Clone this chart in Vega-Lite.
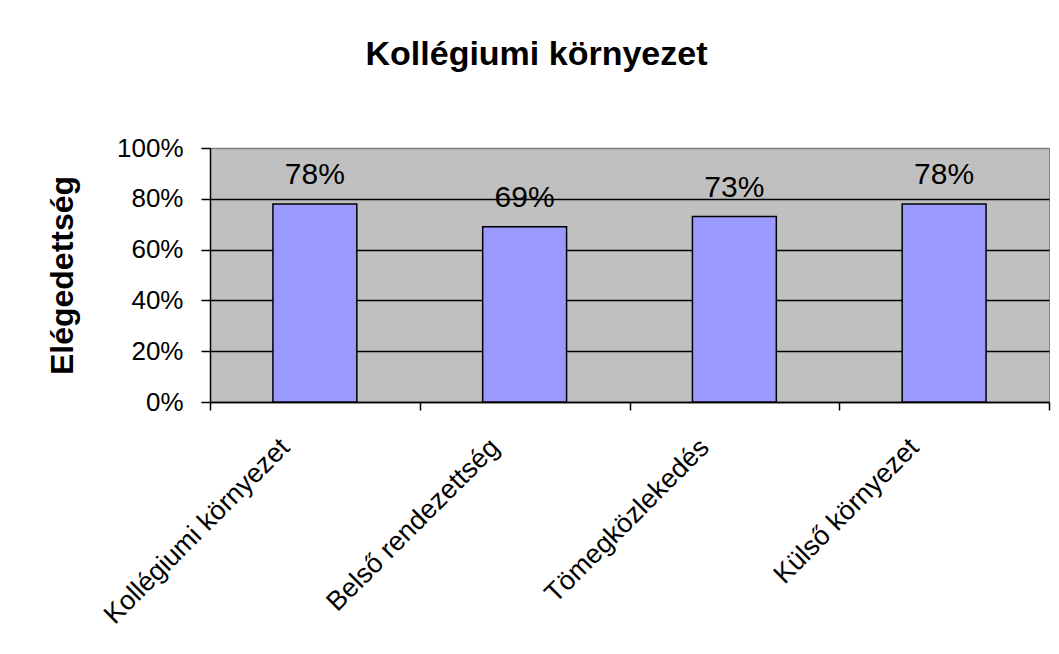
{
  "$schema": "https://vega.github.io/schema/vega-lite/v6.json",
  "width": 839,
  "height": 254,
  "autosize": {"type": "none"},
  "padding": {"left": 210, "top": 148, "right": 10, "bottom": 252},
  "background": "white",
  "title": {
    "text": "Kollégiumi környezet",
    "font": "Liberation Sans",
    "fontSize": 34,
    "fontWeight": "bold",
    "color": "black",
    "anchor": "middle",
    "baseline": "alphabetic",
    "offset": 36,
    "dx": -93
  },
  "data": {
    "values": [
      {"kategoria": "Kollégiumi környezet", "ertek": 0.78},
      {"kategoria": "Belső rendezettség", "ertek": 0.69},
      {"kategoria": "Tömegközlekedés", "ertek": 0.73},
      {"kategoria": "Külső környezet", "ertek": 0.78}
    ]
  },
  "encoding": {
    "x": {
      "field": "kategoria",
      "type": "nominal",
      "sort": null,
      "scale": {"paddingInner": 0, "paddingOuter": 0},
      "axis": {
        "title": null,
        "tickBand": "extent",
        "labelAngle": -45,
        "labelAlign": "right",
        "labelBaseline": "middle",
        "labelOffset": -30,
        "labelPadding": 33,
        "labelFont": "Liberation Sans",
        "labelFontSize": 27,
        "labelColor": "black",
        "labelLimit": 0,
        "tickSize": 8,
        "tickColor": "black",
        "tickWidth": 1.5,
        "domainColor": "black",
        "domainWidth": 1.5
      }
    },
    "y": {
      "field": "ertek",
      "type": "quantitative",
      "scale": {"domain": [0, 1]},
      "axis": {
        "title": "Elégedettség",
        "values": [0, 0.2, 0.4, 0.6, 0.8, 1],
        "format": ".0%",
        "labelFont": "Liberation Sans",
        "labelFontSize": 26,
        "labelColor": "black",
        "labelPadding": 18,
        "tickSize": 9,
        "tickColor": "black",
        "tickWidth": 1.5,
        "domainColor": "black",
        "domainWidth": 1.5,
        "grid": true,
        "gridColor": {"condition": {"test": "datum.value === 1", "value": "#808080"}, "value": "black"},
        "gridWidth": 1.5,
        "gridOpacity": 1,
        "titleFont": "Liberation Sans",
        "titleFontSize": 32,
        "titleFontWeight": "bold",
        "titleColor": "black",
        "titlePadding": 37
      }
    }
  },
  "layer": [
    {
      "mark": {"type": "bar", "width": {"band": 0.4}, "fill": "#9999FF", "stroke": "black", "strokeWidth": 1.5}
    },
    {
      "mark": {"type": "text", "dy": -20, "baseline": "alphabetic", "fontSize": 30, "font": "Liberation Sans", "color": "black"},
      "encoding": {"text": {"field": "ertek", "format": ".0%"}}
    }
  ],
  "config": {
    "view": {"fill": "#C0C0C0", "stroke": "#808080", "strokeWidth": 1}
  }
}
